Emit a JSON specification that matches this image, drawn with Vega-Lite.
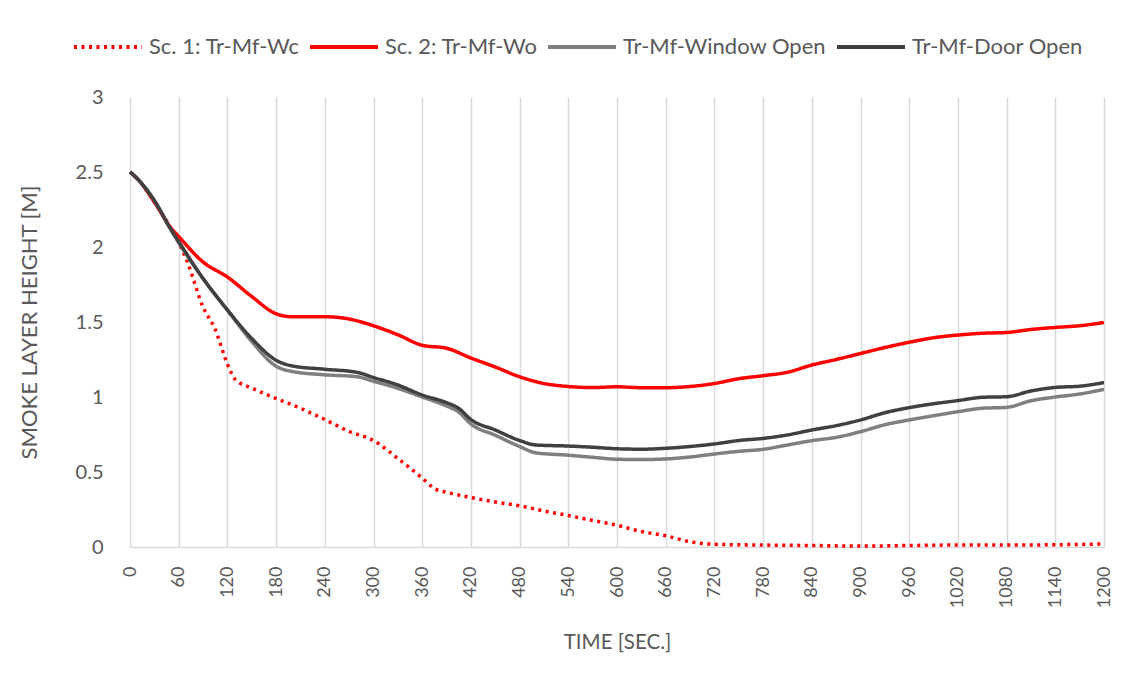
{
  "$schema": "https://vega.github.io/schema/vega-lite/v6.json",
  "width": 974,
  "height": 450,
  "autosize": {"type": "none"},
  "padding": {"left": 130, "top": 97, "right": 37, "bottom": 137},
  "background": "white",
  "config": {
    "view": {"stroke": null},
    "font": "Lato",
    "axis": {"labelColor": "#595959", "titleColor": "#595959", "titleFontWeight": "normal", "labelFont": "Lato", "titleFont": "Lato"},
    "legend": {"labelColor": "#595959", "labelFont": "Lato"}
  },
  "data": {
    "values": [
      {"series": "Sc. 1: Tr-Mf-Wc", "time": 0, "height": 2.5},
      {"series": "Sc. 1: Tr-Mf-Wc", "time": 10, "height": 2.45},
      {"series": "Sc. 1: Tr-Mf-Wc", "time": 30, "height": 2.3},
      {"series": "Sc. 1: Tr-Mf-Wc", "time": 50, "height": 2.13},
      {"series": "Sc. 1: Tr-Mf-Wc", "time": 60, "height": 2.03},
      {"series": "Sc. 1: Tr-Mf-Wc", "time": 70, "height": 1.91},
      {"series": "Sc. 1: Tr-Mf-Wc", "time": 90, "height": 1.6},
      {"series": "Sc. 1: Tr-Mf-Wc", "time": 105, "height": 1.45},
      {"series": "Sc. 1: Tr-Mf-Wc", "time": 120, "height": 1.22},
      {"series": "Sc. 1: Tr-Mf-Wc", "time": 130, "height": 1.115},
      {"series": "Sc. 1: Tr-Mf-Wc", "time": 150, "height": 1.06},
      {"series": "Sc. 1: Tr-Mf-Wc", "time": 180, "height": 0.99},
      {"series": "Sc. 1: Tr-Mf-Wc", "time": 210, "height": 0.925},
      {"series": "Sc. 1: Tr-Mf-Wc", "time": 240, "height": 0.85},
      {"series": "Sc. 1: Tr-Mf-Wc", "time": 270, "height": 0.77},
      {"series": "Sc. 1: Tr-Mf-Wc", "time": 300, "height": 0.71},
      {"series": "Sc. 1: Tr-Mf-Wc", "time": 330, "height": 0.59},
      {"series": "Sc. 1: Tr-Mf-Wc", "time": 360, "height": 0.46},
      {"series": "Sc. 1: Tr-Mf-Wc", "time": 375, "height": 0.39},
      {"series": "Sc. 1: Tr-Mf-Wc", "time": 390, "height": 0.365},
      {"series": "Sc. 1: Tr-Mf-Wc", "time": 420, "height": 0.33},
      {"series": "Sc. 1: Tr-Mf-Wc", "time": 450, "height": 0.3},
      {"series": "Sc. 1: Tr-Mf-Wc", "time": 480, "height": 0.275},
      {"series": "Sc. 1: Tr-Mf-Wc", "time": 510, "height": 0.24},
      {"series": "Sc. 1: Tr-Mf-Wc", "time": 540, "height": 0.21},
      {"series": "Sc. 1: Tr-Mf-Wc", "time": 570, "height": 0.177},
      {"series": "Sc. 1: Tr-Mf-Wc", "time": 600, "height": 0.145},
      {"series": "Sc. 1: Tr-Mf-Wc", "time": 630, "height": 0.103},
      {"series": "Sc. 1: Tr-Mf-Wc", "time": 660, "height": 0.075},
      {"series": "Sc. 1: Tr-Mf-Wc", "time": 690, "height": 0.035},
      {"series": "Sc. 1: Tr-Mf-Wc", "time": 720, "height": 0.018},
      {"series": "Sc. 1: Tr-Mf-Wc", "time": 780, "height": 0.013},
      {"series": "Sc. 1: Tr-Mf-Wc", "time": 840, "height": 0.01},
      {"series": "Sc. 1: Tr-Mf-Wc", "time": 900, "height": 0.006},
      {"series": "Sc. 1: Tr-Mf-Wc", "time": 960, "height": 0.01},
      {"series": "Sc. 1: Tr-Mf-Wc", "time": 1020, "height": 0.013},
      {"series": "Sc. 1: Tr-Mf-Wc", "time": 1080, "height": 0.013},
      {"series": "Sc. 1: Tr-Mf-Wc", "time": 1140, "height": 0.015},
      {"series": "Sc. 1: Tr-Mf-Wc", "time": 1200, "height": 0.02},

      {"series": "Sc. 2: Tr-Mf-Wo", "time": 0, "height": 2.5},
      {"series": "Sc. 2: Tr-Mf-Wo", "time": 10, "height": 2.45},
      {"series": "Sc. 2: Tr-Mf-Wo", "time": 30, "height": 2.3},
      {"series": "Sc. 2: Tr-Mf-Wo", "time": 50, "height": 2.13},
      {"series": "Sc. 2: Tr-Mf-Wo", "time": 60, "height": 2.07},
      {"series": "Sc. 2: Tr-Mf-Wo", "time": 90, "height": 1.9},
      {"series": "Sc. 2: Tr-Mf-Wo", "time": 120, "height": 1.8},
      {"series": "Sc. 2: Tr-Mf-Wo", "time": 150, "height": 1.67},
      {"series": "Sc. 2: Tr-Mf-Wo", "time": 180, "height": 1.555},
      {"series": "Sc. 2: Tr-Mf-Wo", "time": 200, "height": 1.535},
      {"series": "Sc. 2: Tr-Mf-Wo", "time": 240, "height": 1.535},
      {"series": "Sc. 2: Tr-Mf-Wo", "time": 270, "height": 1.52},
      {"series": "Sc. 2: Tr-Mf-Wo", "time": 285, "height": 1.5},
      {"series": "Sc. 2: Tr-Mf-Wo", "time": 300, "height": 1.475},
      {"series": "Sc. 2: Tr-Mf-Wo", "time": 330, "height": 1.415},
      {"series": "Sc. 2: Tr-Mf-Wo", "time": 360, "height": 1.345},
      {"series": "Sc. 2: Tr-Mf-Wo", "time": 390, "height": 1.325},
      {"series": "Sc. 2: Tr-Mf-Wo", "time": 420, "height": 1.26},
      {"series": "Sc. 2: Tr-Mf-Wo", "time": 450, "height": 1.2},
      {"series": "Sc. 2: Tr-Mf-Wo", "time": 480, "height": 1.135},
      {"series": "Sc. 2: Tr-Mf-Wo", "time": 510, "height": 1.09},
      {"series": "Sc. 2: Tr-Mf-Wo", "time": 540, "height": 1.07},
      {"series": "Sc. 2: Tr-Mf-Wo", "time": 570, "height": 1.063},
      {"series": "Sc. 2: Tr-Mf-Wo", "time": 600, "height": 1.068},
      {"series": "Sc. 2: Tr-Mf-Wo", "time": 630, "height": 1.062},
      {"series": "Sc. 2: Tr-Mf-Wo", "time": 660, "height": 1.062},
      {"series": "Sc. 2: Tr-Mf-Wo", "time": 690, "height": 1.07},
      {"series": "Sc. 2: Tr-Mf-Wo", "time": 720, "height": 1.09},
      {"series": "Sc. 2: Tr-Mf-Wo", "time": 750, "height": 1.122},
      {"series": "Sc. 2: Tr-Mf-Wo", "time": 780, "height": 1.142},
      {"series": "Sc. 2: Tr-Mf-Wo", "time": 810, "height": 1.165},
      {"series": "Sc. 2: Tr-Mf-Wo", "time": 840, "height": 1.213},
      {"series": "Sc. 2: Tr-Mf-Wo", "time": 870, "height": 1.25},
      {"series": "Sc. 2: Tr-Mf-Wo", "time": 900, "height": 1.29},
      {"series": "Sc. 2: Tr-Mf-Wo", "time": 930, "height": 1.33},
      {"series": "Sc. 2: Tr-Mf-Wo", "time": 960, "height": 1.365},
      {"series": "Sc. 2: Tr-Mf-Wo", "time": 990, "height": 1.395},
      {"series": "Sc. 2: Tr-Mf-Wo", "time": 1020, "height": 1.413},
      {"series": "Sc. 2: Tr-Mf-Wo", "time": 1050, "height": 1.425},
      {"series": "Sc. 2: Tr-Mf-Wo", "time": 1080, "height": 1.43},
      {"series": "Sc. 2: Tr-Mf-Wo", "time": 1110, "height": 1.45},
      {"series": "Sc. 2: Tr-Mf-Wo", "time": 1140, "height": 1.464},
      {"series": "Sc. 2: Tr-Mf-Wo", "time": 1170, "height": 1.475},
      {"series": "Sc. 2: Tr-Mf-Wo", "time": 1200, "height": 1.497},

      {"series": "Tr-Mf-Window Open", "time": 0, "height": 2.5},
      {"series": "Tr-Mf-Window Open", "time": 10, "height": 2.45},
      {"series": "Tr-Mf-Window Open", "time": 30, "height": 2.31},
      {"series": "Tr-Mf-Window Open", "time": 50, "height": 2.12},
      {"series": "Tr-Mf-Window Open", "time": 60, "height": 2.03},
      {"series": "Tr-Mf-Window Open", "time": 90, "height": 1.79},
      {"series": "Tr-Mf-Window Open", "time": 120, "height": 1.58},
      {"series": "Tr-Mf-Window Open", "time": 150, "height": 1.37},
      {"series": "Tr-Mf-Window Open", "time": 180, "height": 1.205},
      {"series": "Tr-Mf-Window Open", "time": 200, "height": 1.17},
      {"series": "Tr-Mf-Window Open", "time": 240, "height": 1.148},
      {"series": "Tr-Mf-Window Open", "time": 280, "height": 1.135},
      {"series": "Tr-Mf-Window Open", "time": 300, "height": 1.105},
      {"series": "Tr-Mf-Window Open", "time": 330, "height": 1.058},
      {"series": "Tr-Mf-Window Open", "time": 360, "height": 1.0},
      {"series": "Tr-Mf-Window Open", "time": 390, "height": 0.94},
      {"series": "Tr-Mf-Window Open", "time": 405, "height": 0.9},
      {"series": "Tr-Mf-Window Open", "time": 420, "height": 0.82},
      {"series": "Tr-Mf-Window Open", "time": 450, "height": 0.745},
      {"series": "Tr-Mf-Window Open", "time": 480, "height": 0.67},
      {"series": "Tr-Mf-Window Open", "time": 500, "height": 0.628},
      {"series": "Tr-Mf-Window Open", "time": 540, "height": 0.612},
      {"series": "Tr-Mf-Window Open", "time": 570, "height": 0.598},
      {"series": "Tr-Mf-Window Open", "time": 600, "height": 0.585},
      {"series": "Tr-Mf-Window Open", "time": 630, "height": 0.583},
      {"series": "Tr-Mf-Window Open", "time": 660, "height": 0.587},
      {"series": "Tr-Mf-Window Open", "time": 690, "height": 0.6},
      {"series": "Tr-Mf-Window Open", "time": 720, "height": 0.62},
      {"series": "Tr-Mf-Window Open", "time": 750, "height": 0.638},
      {"series": "Tr-Mf-Window Open", "time": 780, "height": 0.651},
      {"series": "Tr-Mf-Window Open", "time": 810, "height": 0.68},
      {"series": "Tr-Mf-Window Open", "time": 840, "height": 0.709},
      {"series": "Tr-Mf-Window Open", "time": 870, "height": 0.731},
      {"series": "Tr-Mf-Window Open", "time": 900, "height": 0.769},
      {"series": "Tr-Mf-Window Open", "time": 930, "height": 0.815},
      {"series": "Tr-Mf-Window Open", "time": 960, "height": 0.847},
      {"series": "Tr-Mf-Window Open", "time": 990, "height": 0.875},
      {"series": "Tr-Mf-Window Open", "time": 1020, "height": 0.902},
      {"series": "Tr-Mf-Window Open", "time": 1050, "height": 0.925},
      {"series": "Tr-Mf-Window Open", "time": 1080, "height": 0.931},
      {"series": "Tr-Mf-Window Open", "time": 1110, "height": 0.975},
      {"series": "Tr-Mf-Window Open", "time": 1140, "height": 1.0},
      {"series": "Tr-Mf-Window Open", "time": 1170, "height": 1.02},
      {"series": "Tr-Mf-Window Open", "time": 1200, "height": 1.051},

      {"series": "Tr-Mf-Door Open", "time": 0, "height": 2.5},
      {"series": "Tr-Mf-Door Open", "time": 10, "height": 2.45},
      {"series": "Tr-Mf-Door Open", "time": 30, "height": 2.31},
      {"series": "Tr-Mf-Door Open", "time": 50, "height": 2.12},
      {"series": "Tr-Mf-Door Open", "time": 60, "height": 2.036},
      {"series": "Tr-Mf-Door Open", "time": 90, "height": 1.79},
      {"series": "Tr-Mf-Door Open", "time": 120, "height": 1.58},
      {"series": "Tr-Mf-Door Open", "time": 150, "height": 1.39},
      {"series": "Tr-Mf-Door Open", "time": 180, "height": 1.245},
      {"series": "Tr-Mf-Door Open", "time": 200, "height": 1.207},
      {"series": "Tr-Mf-Door Open", "time": 240, "height": 1.185},
      {"series": "Tr-Mf-Door Open", "time": 280, "height": 1.164},
      {"series": "Tr-Mf-Door Open", "time": 300, "height": 1.13},
      {"series": "Tr-Mf-Door Open", "time": 330, "height": 1.08},
      {"series": "Tr-Mf-Door Open", "time": 360, "height": 1.013},
      {"series": "Tr-Mf-Door Open", "time": 390, "height": 0.962},
      {"series": "Tr-Mf-Door Open", "time": 405, "height": 0.924},
      {"series": "Tr-Mf-Door Open", "time": 420, "height": 0.85},
      {"series": "Tr-Mf-Door Open", "time": 450, "height": 0.78},
      {"series": "Tr-Mf-Door Open", "time": 480, "height": 0.71},
      {"series": "Tr-Mf-Door Open", "time": 500, "height": 0.68},
      {"series": "Tr-Mf-Door Open", "time": 540, "height": 0.673},
      {"series": "Tr-Mf-Door Open", "time": 570, "height": 0.665},
      {"series": "Tr-Mf-Door Open", "time": 600, "height": 0.655},
      {"series": "Tr-Mf-Door Open", "time": 630, "height": 0.652},
      {"series": "Tr-Mf-Door Open", "time": 660, "height": 0.658},
      {"series": "Tr-Mf-Door Open", "time": 690, "height": 0.67},
      {"series": "Tr-Mf-Door Open", "time": 720, "height": 0.687},
      {"series": "Tr-Mf-Door Open", "time": 750, "height": 0.71},
      {"series": "Tr-Mf-Door Open", "time": 780, "height": 0.724},
      {"series": "Tr-Mf-Door Open", "time": 810, "height": 0.747},
      {"series": "Tr-Mf-Door Open", "time": 840, "height": 0.78},
      {"series": "Tr-Mf-Door Open", "time": 870, "height": 0.809},
      {"series": "Tr-Mf-Door Open", "time": 900, "height": 0.847},
      {"series": "Tr-Mf-Door Open", "time": 930, "height": 0.895},
      {"series": "Tr-Mf-Door Open", "time": 960, "height": 0.929},
      {"series": "Tr-Mf-Door Open", "time": 990, "height": 0.955},
      {"series": "Tr-Mf-Door Open", "time": 1020, "height": 0.976},
      {"series": "Tr-Mf-Door Open", "time": 1050, "height": 0.998},
      {"series": "Tr-Mf-Door Open", "time": 1080, "height": 1.002},
      {"series": "Tr-Mf-Door Open", "time": 1110, "height": 1.04},
      {"series": "Tr-Mf-Door Open", "time": 1140, "height": 1.064},
      {"series": "Tr-Mf-Door Open", "time": 1170, "height": 1.072},
      {"series": "Tr-Mf-Door Open", "time": 1200, "height": 1.096}
    ]
  },
  "mark": {"type": "line", "interpolate": "monotone", "strokeWidth": 3.5},
  "encoding": {
    "x": {
      "field": "time", "type": "quantitative",
      "scale": {"domain": [0, 1200], "nice": false, "zero": false},
      "axis": {
        "title": "TIME [SEC.]", "format": "d",
        "values": [0, 60, 120, 180, 240, 300, 360, 420, 480, 540, 600, 660, 720, 780, 840, 900, 960, 1020, 1080, 1140, 1200],
        "labelAngle": 270, "labelFontSize": 18, "labelPadding": 19, "labelOverlap": false, "labelFlush": false,
        "ticks": false, "grid": true, "gridColor": "#D9D9D9", "gridWidth": 1.5,
        "domainColor": "#D9D9D9", "domainWidth": 1.5,
        "titleFontSize": 20.5, "titlePadding": 25
      }
    },
    "y": {
      "field": "height", "type": "quantitative",
      "scale": {"domain": [0, 3], "nice": false},
      "axis": {
        "title": "SMOKE LAYER HEIGHT [M]",
        "values": [0, 0.5, 1, 1.5, 2, 2.5, 3], "format": "~g",
        "grid": false, "domain": false, "ticks": false,
        "labelFontSize": 20, "labelPadding": 27,
        "titleFontSize": 22, "titlePadding": 34
      }
    },
    "color": {
      "field": "series", "type": "nominal",
      "scale": {
        "domain": ["Sc. 1: Tr-Mf-Wc", "Sc. 2: Tr-Mf-Wo", "Tr-Mf-Window Open", "Tr-Mf-Door Open"],
        "range": ["#FF0000", "#FF0000", "#7F7F7F", "#404040"]
      },
      "legend": {
        "title": null, "orient": "none", "direction": "horizontal", "legendX": -58, "legendY": -86,
        "symbolType": "stroke", "symbolSize": 4624, "symbolStrokeWidth": 4,
        "labelFontSize": 22, "labelOffset": 5, "columnPadding": 2, "labelLimit": 300
      }
    },
    "strokeDash": {
      "field": "series", "type": "nominal",
      "scale": {
        "domain": ["Sc. 1: Tr-Mf-Wc", "Sc. 2: Tr-Mf-Wo", "Tr-Mf-Window Open", "Tr-Mf-Door Open"],
        "range": [[3, 4.5], [1, 0], [1, 0], [1, 0]]
      },
      "legend": {
        "title": null, "orient": "none", "direction": "horizontal", "legendX": -58, "legendY": -86,
        "symbolType": "stroke", "symbolSize": 4624, "symbolStrokeWidth": 4,
        "labelFontSize": 22, "labelOffset": 5, "columnPadding": 2, "labelLimit": 300
      }
    },
    "order": {"field": "time"}
  }
}
